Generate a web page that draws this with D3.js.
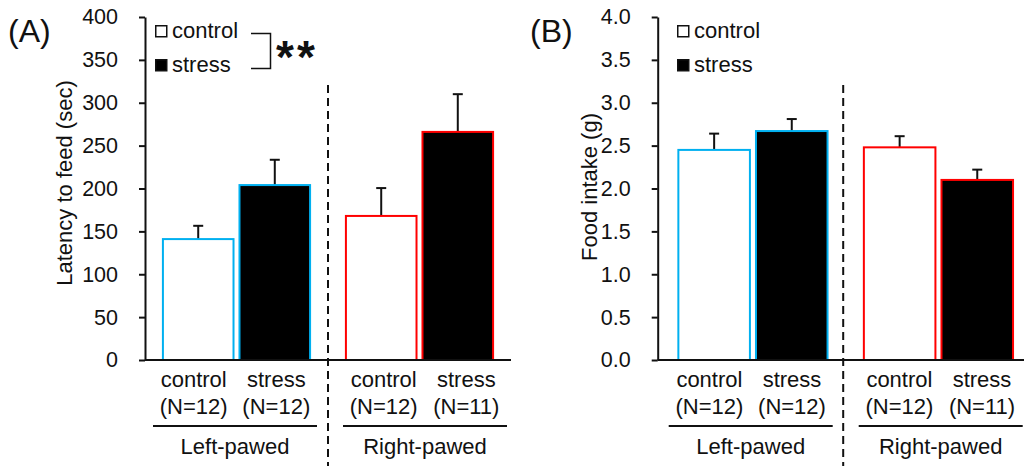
<!DOCTYPE html>
<meta charset='utf-8'>
<style>
  body { margin: 0; background: #fff; }
  svg { display: block; font-family: "Liberation Sans", Arial, sans-serif; }
  text { fill: #111; }
  .axis path, .axis line { stroke: #111; stroke-width: 2; }
  .axis text { font-size: 21.5px; fill: #111; }
</style>
<body>
<div id="viz"></div>
<script src="https://d3js.org/d3.v7.min.js"></script>
<script>

const groups = ['Left-pawed', 'Right-pawed'];
const conditions = ['control', 'stress'];
const sampleLabels = [['(N=12)', '(N=12)'], ['(N=12)', '(N=11)']];

// latency to feed (sec), mean and SEM per group x condition
const latencyMean = [[141, 204], [168, 266]];
const latencySem = [[15.5, 29.5], [32.5, 44]];
const latencyTicks = [0, 50, 100, 150, 200, 250, 300, 350, 400];

// food intake (g)
const intakeMean = [[2.45, 2.67], [2.48, 2.10]];
const intakeSem = [[0.19, 0.14], [0.13, 0.12]];
const intakeTicks = [0, 0.5, 1.0, 1.5, 2.0, 2.5, 3.0, 3.5, 4.0];

const groupColors = ['#00b0f0', '#ff0000'];
const condFill = ['#fff', '#000'];

var width = 1024, height = 466;
var svg = d3.select('#viz').append('svg')
  .attr('width', width).attr('height', height);

var panels = [
  {tag: '(A)', tagX: 8, x0: 145, groupW: 183, barShift: 0, labelStart: -5,
   title: 'Latency to feed (sec)', titleX: 72, titleY: 183,
   mean: latencyMean, sem: latencySem, ticks: latencyTicks, fmt: d3.format('d'),
   legendX: 155, stars: true},
  {tag: '(B)', tagX: 530, x0: 657.7, groupW: 185.5, barShift: 2.5, labelStart: -2,
   title: 'Food intake (g)', titleX: 597, titleY: 187,
   mean: intakeMean, sem: intakeSem, ticks: intakeTicks, fmt: d3.format('.1f'),
   legendX: 677, stars: false}
];

var yTop = 17, yBottom = 360;

panels.forEach(function(p) {
  var g = svg.append('g');

  var y = d3.scaleLinear()
    .domain(d3.extent(p.ticks))
    .range([yBottom, yTop]);

  var gx = d3.scaleBand()
    .domain(groups)
    .range([p.x0, p.x0 + 2 * p.groupW]);

  var cx = d3.scaleBand()
    .domain(conditions)
    .range([p.barShift, p.groupW + p.barShift])
    .paddingInner(0.078)
    .paddingOuter(0.234);

  var lx = d3.scaleBand()
    .domain(groups)
    .range([p.x0 + p.labelStart, p.x0 + p.labelStart + 380]);

  var lcx = d3.scalePoint()
    .domain(conditions)
    .range([-41.3, 41.3]);

  var rows = [];
  groups.forEach(function(grp, gi) {
    conditions.forEach(function(cond, ci) {
      rows.push({grp: grp, cond: cond, gi: gi, ci: ci,
        mean: p.mean[gi][ci], sem: p.sem[gi][ci], n: sampleLabels[gi][ci]});
    });
  });

  // error bars (upper only)
  var err = g.selectAll('g.err').data(rows).enter().append('g');
  err.append('line')
    .attr('x1', d => gx(d.grp) + cx(d.cond) + cx.bandwidth() / 2)
    .attr('x2', d => gx(d.grp) + cx(d.cond) + cx.bandwidth() / 2)
    .attr('y1', d => y(d.mean))
    .attr('y2', d => y(d.mean + d.sem))
    .attr('stroke', '#111').attr('stroke-width', 2);
  err.append('line')
    .attr('x1', d => gx(d.grp) + cx(d.cond) + cx.bandwidth() / 2 - 5)
    .attr('x2', d => gx(d.grp) + cx(d.cond) + cx.bandwidth() / 2 + 5)
    .attr('y1', d => y(d.mean + d.sem))
    .attr('y2', d => y(d.mean + d.sem))
    .attr('stroke', '#111').attr('stroke-width', 2);

  g.selectAll('rect.bar').data(rows).enter().append('rect')
    .attr('x', d => gx(d.grp) + cx(d.cond))
    .attr('y', d => y(d.mean))
    .attr('width', cx.bandwidth())
    .attr('height', d => y(0) - y(d.mean))
    .attr('fill', d => condFill[d.ci])
    .attr('stroke', d => groupColors[d.gi])
    .attr('stroke-width', 2);

  // y axis
  g.append('g')
    .attr('class', 'axis')
    .attr('transform', 'translate(' + p.x0 + ',0)')
    .call(d3.axisLeft(y).tickValues(p.ticks).tickFormat(p.fmt)
      .tickSize(6).tickSizeOuter(0).tickPadding(21));

  // x axis baseline
  g.append('line')
    .attr('x1', p.x0).attr('x2', Math.min(gx.range()[1], width))
    .attr('y1', y(0)).attr('y2', y(0))
    .attr('stroke', '#111').attr('stroke-width', 2);

  // group separator
  g.append('line')
    .attr('x1', gx('Right-pawed')).attr('x2', gx('Right-pawed'))
    .attr('y1', 85).attr('y2', height)
    .attr('stroke', '#111').attr('stroke-width', 2)
    .attr('stroke-dasharray', '8,5');

  // category labels
  var lab = g.selectAll('g.lab').data(rows).enter().append('text')
    .attr('text-anchor', 'middle')
    .style('font-size', '22px');
  lab.append('tspan')
    .attr('x', d => lx(d.grp) + lx.bandwidth() / 2 + lcx(d.cond))
    .attr('y', 387)
    .text(d => d.cond);
  lab.append('tspan')
    .attr('x', d => lx(d.grp) + lx.bandwidth() / 2 + lcx(d.cond))
    .attr('y', 414)
    .text(d => d.n);

  g.selectAll('line.under').data(groups).enter().append('line')
    .attr('x1', d => lx(d) + 13)
    .attr('x2', d => lx(d) + lx.bandwidth() - 13)
    .attr('y1', 426).attr('y2', 426)
    .attr('stroke', '#111').attr('stroke-width', 2);

  g.selectAll('text.grp').data(groups).enter().append('text')
    .attr('x', d => lx(d) + lx.bandwidth() / 2)
    .attr('y', 454)
    .attr('text-anchor', 'middle')
    .style('font-size', '22px')
    .text(d => d);

  // axis title
  g.append('text')
    .attr('transform', 'translate(' + p.titleX + ',' + p.titleY + ') rotate(-90)')
    .attr('text-anchor', 'middle')
    .style('font-size', '22px')
    .text(p.title);

  // panel tag
  g.append('text')
    .attr('x', p.tagX).attr('y', 42)
    .style('font-size', '32px')
    .text(p.tag);

  // legend
  var leg = g.selectAll('g.leg').data(conditions).enter().append('g')
    .attr('transform', (d, i) => 'translate(' + p.legendX + ',' + (25 + i * 34) + ')');
  leg.append('rect')
    .attr('x', 0.75).attr('y', 0.75)
    .attr('width', 11).attr('height', 11)
    .attr('fill', (d, i) => condFill[i])
    .attr('stroke', '#111').attr('stroke-width', 1.5);
  leg.append('text')
    .attr('x', 17).attr('y', 13)
    .style('font-size', '22px')
    .text(d => d);

  if (p.stars) {
    g.append('path')
      .attr('d', 'M251,33.5H270.5V68.5H251')
      .attr('fill', 'none')
      .attr('stroke', '#111').attr('stroke-width', 1.5);
    g.append('text')
      .attr('x', 276).attr('y', 73)
      .style('font-size', '46px')
      .style('font-weight', 'bold')
      .style('letter-spacing', '3px')
      .text('**');
  }
});

</script>
</body>
